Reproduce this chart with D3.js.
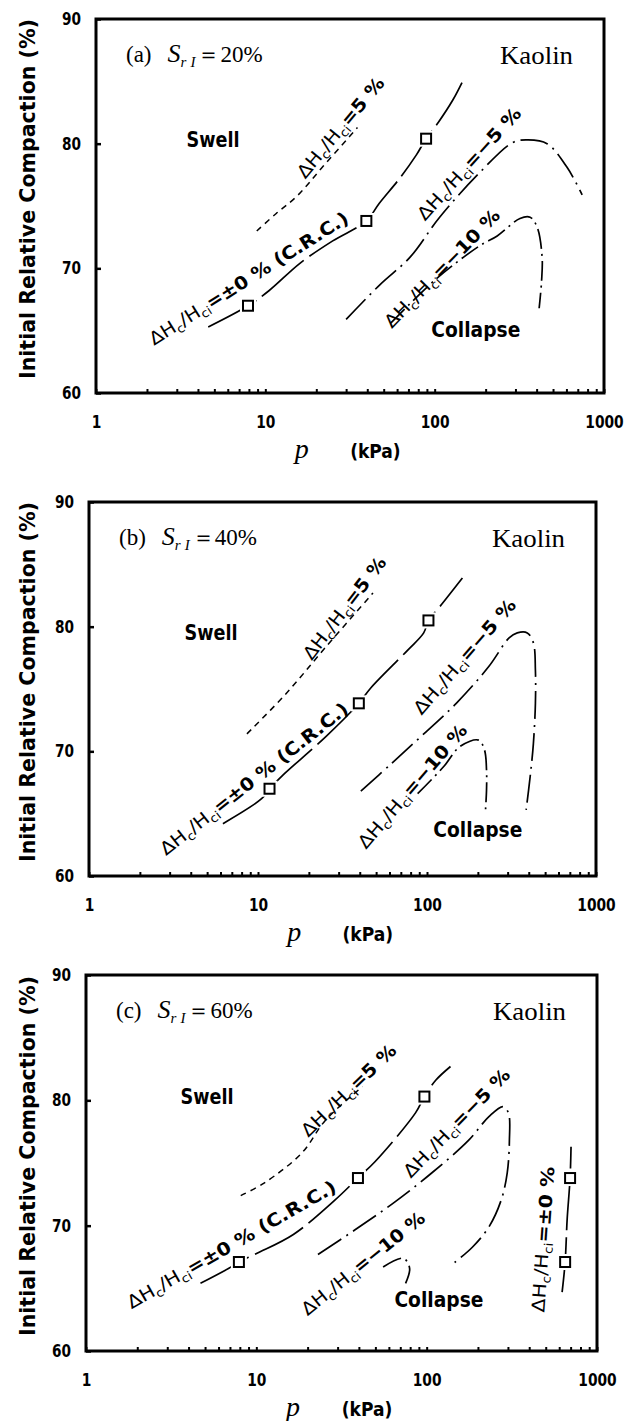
<!DOCTYPE html>
<html>
<head>
<meta charset="utf-8">
<script src="https://cdn.jsdelivr.net/npm/d3@7"></script>
<style>
  body { margin: 0; background: #fff; }
</style>
</head>
<body>
<div id="chart"></div>
<script>
// ---- data: [p (kPa), initial relative compaction (%)] ----
const xTickValues = [1, 10, 100, 1000];
const yTickValues = [60, 70, 80, 90];
const panelLetters = ["(a)", "(b)", "(c)"];
const saturations = ["20%", "40%", "60%"];
const curveLevels = ["5 %", "±0 %", "−5 %", "−10 %"];

// (a) Sr = 20%
const swellA = [[8.9, 73.0], [11.6, 74.4], [15.4, 75.8], [22, 78.2], [35, 81.3]];
const crcA = [[4.6, 65.3], [7.9, 67.0], [10.5, 68.2], [16, 70.4], [25, 72.2], [39.5, 73.8],
              [47, 75.2], [62, 77.2], [78, 79.1], [89, 80.4], [105, 81.7], [128, 83.5], [145, 84.9]];
const squaresA = [[7.9, 67.0], [39.5, 73.8], [89, 80.4]];
const neg5A = [[30, 65.9], [47.6, 68.7], [71.6, 70.9], [107, 74.1], [185, 77.7], [290, 80.1],
               [356, 80.3], [461, 80.0], [605, 78.1], [743, 75.9]];
const neg10A = [[55, 65.6], [101, 69.1], [184, 71.8], [234, 72.6], [319, 74.0], [366, 74.1],
                [403, 73.3], [431, 70.9], [428, 69.0], [414, 66.8]];

// (b) Sr = 40%
const swellB = [[8.6, 71.4], [14.6, 74.6], [25.3, 78.4], [47.9, 82.7]];
const crcB = [[6.2, 64.2], [10.5, 66.2], [11.7, 67.0], [13.8, 68.0], [25.3, 71.2], [39.5, 73.85],
              [46.6, 75.1], [76.7, 78.1], [95.6, 79.5], [102, 80.5], [119, 81.6], [162, 83.9]];
const squaresB = [[11.7, 67.0], [39.5, 73.85], [102, 80.5]];
const neg5B = [[40.6, 66.8], [61.4, 69.0], [95.7, 71.4], [149, 73.85], [232, 76.8], [306, 79.1], [342, 79.5],
               [392, 79.5], [426, 78.7], [438, 76.5], [438, 73.85], [426, 70.6], [408, 68.0], [386, 65.3]];
const neg10B = [[88, 66.6], [126, 68.8], [157, 70.4], [202, 70.9], [219, 70.1], [225, 68.5], [225, 66.9], [222, 65.3]];

// (c) Sr = 60%
const swellC = [[8.1, 72.4], [11.1, 73.4], [18.5, 75.8], [25.4, 78.4], [42, 81.1]];
const crcC = [[4.7, 65.4], [6.9, 66.6], [7.9, 67.1], [10.1, 67.8], [16.5, 69.3], [28.7, 72.0],
              [39.5, 73.8], [49.7, 75.1], [86, 79.0], [97, 80.3], [113, 81.6], [138, 82.7]];
const squaresC = [[7.9, 67.1], [39.5, 73.8], [97, 80.3]];
const neg5C = [[23, 67.7], [37.8, 69.65], [63.7, 71.8], [107, 74.2], [176, 76.8], [232, 78.7], [281, 79.5],
               [302, 79.0], [306, 76.8], [297, 74.2], [274, 72.05], [232, 69.9], [186, 68.3], [141, 66.9]];
const neg10C = [[55.5, 66.7], [73, 67.4], [79.4, 66.6], [75.2, 65.4]];
const zeroHighC = [[624, 64.7], [650, 67.1], [668, 70.5], [695, 73.8], [704, 76.3]];
const squaresHighC = [[650, 67.1], [695, 73.8]];

// ---- layout ----
const SANS = "'Liberation Sans Narrow','DejaVu Sans Condensed','Arial Narrow',sans-serif";
const SERIF = "'Liberation Serif','Times New Roman',serif";

const frames = [
  { left: 96, top: 19, right: 604, bottom: 393 },
  { left: 89, top: 502, right: 596, bottom: 876 },
  { left: 86, top: 975, right: 597, bottom: 1351 }
];

const lineStyles = {
  swell: { dash: "6,5", width: 1.5 },
  crc: { dash: "55,7", width: 1.7 },
  neg5: { dash: "28,6,2,6", width: 1.7 },
  neg10: { dash: "20,5,2,5", width: 1.7 }
};

const panels = [
  {
    curves: [["swell", swellA], ["crc", crcA], ["neg5", neg5A], ["neg10", neg10A]],
    squares: squaresA,
    labels: [
      { level: 0, at: [27.8, 81.3], angle: -50, len: 125 },
      { level: 1, at: [7.96, 69.2], angle: -32.3, len: 232, suffix: " (C.R.C.)" },
      { level: 2, at: [159.6, 78.4], angle: -47.8, len: 145 },
      { level: 3, at: [110.5, 70.0], angle: -45.8, len: 157 }
    ],
    swell: [4.91, 80.3], collapse: [175, 65.05]
  },
  {
    curves: [["swell", swellB], ["crc", crcB], ["neg5", neg5B], ["neg10", neg10B]],
    squares: squaresB,
    labels: [
      { level: 0, at: [32.5, 81.5], angle: -52.4, len: 124 },
      { level: 1, at: [9.47, 67.8], angle: -38.2, len: 234, suffix: " (C.R.C.)" },
      { level: 2, at: [166.7, 77.6], angle: -49, len: 146 },
      { level: 3, at: [82, 67.2], angle: -49.3, len: 157 }
    ],
    swell: [5.27, 79.5], collapse: [200, 63.7]
  },
  {
    curves: [["swell", swellC], ["crc", crcC], ["neg5", neg5C], ["neg10", neg10C], ["crc", zeroHighC]],
    squares: squaresC.concat(squaresHighC),
    labels: [
      { level: 0, at: [34.8, 80.8], angle: -43.9, len: 124 },
      { level: 1, at: [7.15, 68.5], angle: -29.9, len: 238, suffix: " (C.R.C.)" },
      { level: 2, at: [149.7, 78.2], angle: -45.6, len: 144 },
      { level: 3, at: [42.3, 67.0], angle: -38.9, len: 153 },
      { level: 1, at: [482, 68.9], angle: -86, len: 146 }
    ],
    swell: [5.14, 80.3], collapse: [118, 64.1]
  }
];

const svg = d3.select("#chart").append("svg")
  .attr("width", 640)
  .attr("height", 1421)
  .style("background", "#fff");

function curveLabel(g, px, py, angle, len, value, suffix) {
  const t = g.append("text")
    .attr("transform", `translate(${px},${py}) rotate(${angle})`)
    .attr("text-anchor", "middle")
    .attr("dy", "0.35em")
    .attr("font-family", SANS)
    .attr("font-size", 18)
    .attr("textLength", len)
    .attr("lengthAdjust", "spacingAndGlyphs");
  t.append("tspan").text("ΔH");
  t.append("tspan").attr("dy", 4).attr("font-size", 12).text("c");
  t.append("tspan").attr("dy", -4).text("/H");
  t.append("tspan").attr("dy", 4).attr("font-size", 12).text("ci");
  t.append("tspan").attr("dy", -4).attr("font-weight", "bold").text("=" + value + (suffix || ""));
}

panels.forEach(function(panel, i) {
  const f = frames[i];
  const g = svg.append("g");
  const x = d3.scaleLog().domain([1, 1000]).range([f.left, f.right]);
  const y = d3.scaleLinear().domain([60, 90]).range([f.bottom, f.top]);

  // minor ticks, pointing inward
  g.append("g")
    .attr("transform", `translate(0,${f.bottom})`)
    .call(d3.axisBottom(x).tickValues(x.ticks()).tickSizeInner(-4).tickSizeOuter(0).tickFormat(""))
    .call(s => s.select(".domain").remove())
    .selectAll("line").attr("stroke-width", 2);

  // x tick labels
  g.append("g")
    .attr("transform", `translate(0,${f.bottom})`)
    .call(d3.axisBottom(x).tickValues(xTickValues).tickSize(0).tickPadding(23).tickFormat(d3.format("d")))
    .call(s => s.select(".domain").remove())
    .selectAll("text")
    .attr("font-family", SANS).attr("font-weight", "bold").attr("font-size", 17).attr("fill", "#000")
    .attr("textLength", d => String(d).length * 9.6).attr("lengthAdjust", "spacingAndGlyphs");

  // y axis
  g.append("g")
    .attr("transform", `translate(${f.left},0)`)
    .call(d3.axisLeft(y).tickValues(yTickValues).tickSizeInner(-5).tickSizeOuter(0).tickPadding(15))
    .call(s => s.select(".domain").remove())
    .call(s => s.selectAll("line").attr("stroke-width", 2.5))
    .selectAll("text")
    .attr("font-family", SANS).attr("font-weight", "bold").attr("font-size", 17).attr("fill", "#000")
    .attr("textLength", 19).attr("lengthAdjust", "spacingAndGlyphs");

  // frame
  g.append("rect")
    .attr("x", f.left).attr("y", f.top)
    .attr("width", f.right - f.left).attr("height", f.bottom - f.top)
    .attr("fill", "none").attr("stroke", "#000").attr("stroke-width", 3);

  // curves
  const line = d3.line()
    .x(d => x(d[0]))
    .y(d => y(d[1]))
    .curve(d3.curveCatmullRom.alpha(0.5));
  panel.curves.forEach(function(c) {
    const st = lineStyles[c[0]];
    g.append("path")
      .datum(c[1])
      .attr("d", line)
      .attr("fill", "none")
      .attr("stroke", "#000")
      .attr("stroke-width", st.width)
      .attr("stroke-dasharray", st.dash);
  });

  // squares with a small white gap around them
  g.selectAll("rect.halo").data(panel.squares).enter().append("rect")
    .attr("class", "halo")
    .attr("x", d => x(d[0]) - 8).attr("y", d => y(d[1]) - 8)
    .attr("width", 16).attr("height", 16)
    .attr("fill", "#fff");
  g.selectAll("rect.pt").data(panel.squares).enter().append("rect")
    .attr("class", "pt")
    .attr("x", d => x(d[0]) - 5).attr("y", d => y(d[1]) - 5)
    .attr("width", 10).attr("height", 10)
    .attr("fill", "#fff").attr("stroke", "#000").attr("stroke-width", 2);

  // curve labels
  panel.labels.forEach(function(l) {
    curveLabel(g, x(l.at[0]), y(l.at[1]), l.angle, l.len, curveLevels[l.level], l.suffix);
  });

  // region words
  g.append("text")
    .attr("x", x(panel.swell[0])).attr("y", y(panel.swell[1]))
    .attr("dy", "0.35em").attr("text-anchor", "middle")
    .attr("font-family", SANS).attr("font-weight", "bold").attr("font-size", 21)
    .attr("textLength", 53).attr("lengthAdjust", "spacingAndGlyphs")
    .text("Swell");
  g.append("text")
    .attr("x", x(panel.collapse[0])).attr("y", y(panel.collapse[1]))
    .attr("dy", "0.35em").attr("text-anchor", "middle")
    .attr("font-family", SANS).attr("font-weight", "bold").attr("font-size", 21)
    .attr("textLength", 89).attr("lengthAdjust", "spacingAndGlyphs")
    .text("Collapse");

  // panel title
  const title = g.append("text")
    .attr("x", f.left + 30).attr("y", f.top + 43)
    .attr("font-family", SERIF).attr("font-size", 23);
  title.append("tspan").text(panelLetters[i]);
  title.append("tspan").attr("dx", 16).attr("font-style", "italic").attr("font-size", 26).text("S");
  title.append("tspan").attr("dy", 5).attr("font-style", "italic").attr("font-size", 15).text("r");
  title.append("tspan").attr("dx", 4).attr("font-style", "italic").attr("font-size", 15).text("I");
  title.append("tspan").attr("dy", -5).attr("dx", 2).text("＝" + saturations[i]);

  g.append("text")
    .attr("x", f.right - 31).attr("y", f.top + 45)
    .attr("text-anchor", "end")
    .attr("font-family", SERIF).attr("font-size", 26)
    .attr("textLength", 73).attr("lengthAdjust", "spacingAndGlyphs")
    .text("Kaolin");

  // axis titles
  const midY = (f.top + f.bottom) / 2 - 7;
  g.append("text")
    .attr("transform", `translate(28,${midY}) rotate(-90)`)
    .attr("text-anchor", "middle").attr("dy", "0.35em")
    .attr("font-family", SANS).attr("font-weight", "bold").attr("font-size", 21)
    .attr("textLength", 360).attr("lengthAdjust", "spacingAndGlyphs")
    .text("Initial Relative Compaction (%)");

  const w = f.right - f.left;
  g.append("text")
    .attr("x", f.left + 0.405 * w).attr("y", f.bottom + 65)
    .attr("text-anchor", "middle")
    .attr("font-family", SERIF).attr("font-style", "italic").attr("font-size", 28)
    .text("p");
  g.append("text")
    .attr("x", f.left + 0.55 * w).attr("y", f.bottom + 65)
    .attr("text-anchor", "middle")
    .attr("font-family", SANS).attr("font-weight", "bold").attr("font-size", 19)
    .text("(kPa)");
});
</script>
</body>
</html>
